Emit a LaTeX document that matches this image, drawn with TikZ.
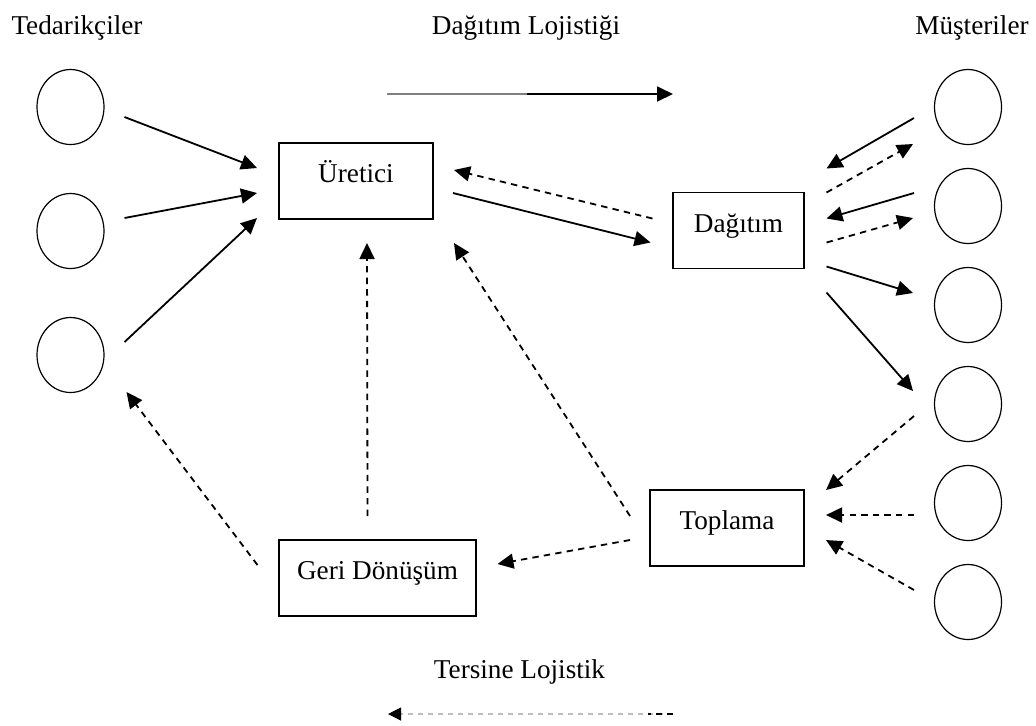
\documentclass[tikz,border=0pt]{standalone}
\usepackage{fontspec}
\setmainfont{Liberation Serif}
\usetikzlibrary{shapes.geometric,arrows.meta}
\newcommand{\arrowWidth}[0]{0.9pt}
\newcommand{\labelSize}[0]{\fontsize{13.6}{16}\selectfont}
\definecolor{fadedgray}{HTML}{BDBDBD}

\begin{document}
\begin{tikzpicture}[x=0.5pt, y=-0.5pt]
  \tikzset{every node/.style={font=\labelSize}}
  \tikzset{party/.style={draw, ellipse, line width=0.6pt, minimum width=33.5pt, minimum height=37.5pt, inner sep=0pt}}
  \tikzset{stage/.style={draw, rectangle, line width=0.8pt, text height=9pt, text depth=7.5pt, minimum height=38pt, inner sep=0pt}}
  \tikzset{flow/.style={line width=\arrowWidth, -{Triangle[length=8pt,width=7.5pt]}}}
  \tikzset{back/.style={flow, dash pattern=on 3.2pt off 2.6pt}}
  \useasboundingbox (0,0) rectangle (1036,725);
  % titles
  \node[anchor=base] (S-title) at (77,34) {Tedarikçiler};
  \node[anchor=base] (DL-title) at (526,34) {Dağıtım Lojistiği};
  \node[anchor=base] (C-title) at (972,34) {Müşteriler};
  \node[anchor=base] (TL-title) at (519.5,678) {Tersine Lojistik};
  % suppliers and customers
  \node[party] (S-1) at (70.5,107) {};
  \node[party] (S-2) at (70.5,231) {};
  \node[party] (S-3) at (70.5,355) {};
  \node[party] (C-1) at (968,107) {};
  \node[party] (C-2) at (968,206) {};
  \node[party] (C-3) at (968,305) {};
  \node[party] (C-4) at (968,404) {};
  \node[party] (C-5) at (968,503) {};
  \node[party] (C-6) at (968,602) {};
  % stages
  \node[stage, minimum width=77pt] (Uretici) at (356,181) {Üretici};
  \node[stage, minimum width=65.5pt] (Dagitim) at (738.5,230.5) {Dağıtım};
  \node[stage, minimum width=77pt] (Toplama) at (727,528) {Toplama};
  \node[stage, minimum width=98.5pt] (GeriDonusum) at (377.5,578) {Geri Dönüşüm};
  % legend arrows
  \coordinate (DL-start) at (387,94);
  \coordinate (DL-mid) at (527,94);
  \coordinate (DL-end) at (673,94);
  \coordinate (TL-start) at (673,714);
  \coordinate (TL-mid) at (648,714);
  \coordinate (TL-end) at (388,714);
  \draw[gray, line width=\arrowWidth] (DL-start) -- (DL-mid);
  \draw[flow] (DL-mid) -- (DL-end);
  \draw[fadedgray, line width=0.6pt, dash pattern=on 2.5pt off 2.5pt, -{Triangle[length=6.5pt,width=6.5pt,color=black]}] (TL-start) -- (TL-end);
  \draw[line width=\arrowWidth, dash pattern=on 3pt off 2.5pt] (TL-start) -- (TL-mid);
  % forward flow
  \draw[flow] ([xshift=27pt,yshift=-5pt]S-1.center) -- ([xshift=-49.5pt,yshift=6.5pt]Uretici.center);
  \draw[flow] ([xshift=27pt,yshift=6.5pt]S-2.center) -- ([xshift=-49.5pt,yshift=-6pt]Uretici.center);
  \draw[flow] ([xshift=27pt,yshift=6.5pt]S-3.center) -- ([xshift=-49.5pt,yshift=-18.5pt]Uretici.center);
  \draw[flow] ([xshift=48.5pt,yshift=-6pt]Uretici.center) -- ([xshift=-44pt,yshift=-6pt]Dagitim.center);
  \draw[flow] ([xshift=-27pt,yshift=-5.5pt]C-1.center) -- ([xshift=44pt,yshift=31pt]Dagitim.center);
  \draw[flow] ([xshift=-27pt,yshift=6.5pt]C-2.center) -- ([xshift=44pt,yshift=6pt]Dagitim.center);
  \draw[flow] ([xshift=44pt,yshift=-18pt]Dagitim.center) -- ([xshift=-27.5pt,yshift=6pt]C-3.center);
  \draw[flow] ([xshift=44pt,yshift=-31pt]Dagitim.center) -- ([xshift=-27.5pt,yshift=6.5pt]C-4.center);
  % reverse flow
  \draw[back] ([xshift=-43pt,yshift=6pt]Dagitim.center) -- ([xshift=49pt,yshift=5.5pt]Uretici.center);
  \draw[back] ([xshift=44pt,yshift=19pt]Dagitim.center) -- ([xshift=-27.5pt,yshift=-18.5pt]C-1.center);
  \draw[back] ([xshift=44pt,yshift=-6pt]Dagitim.center) -- ([xshift=-27.5pt,yshift=-6pt]C-2.center);
  \draw[back] ([xshift=-27pt,yshift=-6pt]C-4.center) -- ([xshift=49.5pt,yshift=19pt]Toplama.center);
  \draw[back] ([xshift=-27pt,yshift=-6pt]C-5.center) -- ([xshift=49.5pt,yshift=6.5pt]Toplama.center);
  \draw[back] ([xshift=-27pt,yshift=6pt]C-6.center) -- ([xshift=49.5pt,yshift=-6pt]Toplama.center);
  \draw[back] ([xshift=-48.5pt,yshift=6pt]Toplama.center) -- ([xshift=49pt,yshift=-31pt]Uretici.center);
  \draw[back] ([xshift=-48.5pt,yshift=-6pt]Toplama.center) -- ([xshift=60pt,yshift=7pt]GeriDonusum.center);
  \draw[back] ([xshift=-5pt,yshift=31pt]GeriDonusum.center) -- ([xshift=5.5pt,yshift=-31pt]Uretici.center);
  \draw[back] ([xshift=-60pt,yshift=6.5pt]GeriDonusum.center) -- ([xshift=28pt,yshift=-18.5pt]S-3.center);
\end{tikzpicture}
\end{document}
